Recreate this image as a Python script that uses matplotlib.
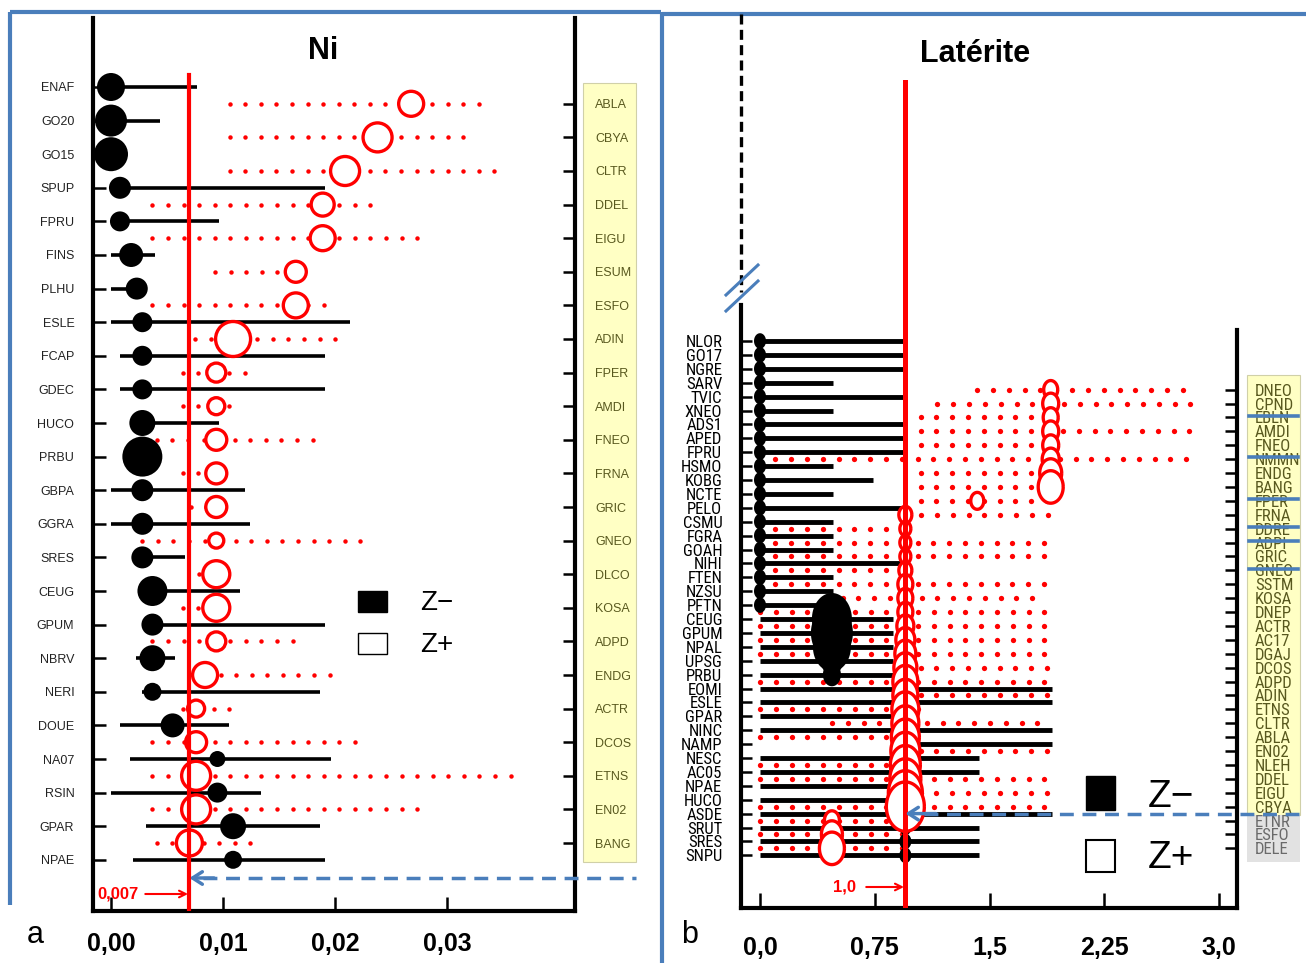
import numpy as np
import matplotlib
matplotlib.use('Agg')
import matplotlib.pyplot as plt
from matplotlib.patches import Rectangle
from matplotlib.path import Path
from matplotlib import font_manager as fm
from matplotlib.font_manager import FontProperties
import matplotlib.transforms as mtransforms

W, H = 1306, 963
_names = {f.name for f in fm.fontManager.ttflist}
SANS = 'Liberation Sans' if 'Liberation Sans' in _names else 'DejaVu Sans'
plt.rcParams['font.family'] = [SANS, 'DejaVu Sans']


def _pick_narrow():
    best = None
    for f in fm.fontManager.ttflist:
        fn = f.fname.replace('\\', '/').split('/')[-1]
        st = str(f.stretch)
        is_narrow = ('Narrow' in f.name or 'Condensed' in f.name or 'Narrow' in fn or 'Condensed' in fn
                     or st in ('condensed', 'semi-condensed', 'extra-condensed'))
        if not is_narrow:
            continue
        w = f.weight
        if not (w == 400 or w == 'normal' or w == 'regular'):
            continue
        if f.style != 'normal':
            continue
        if 'Bold' in fn or 'Italic' in fn or 'Light' in fn or 'Medium' in fn or 'Thin' in fn or 'Black' in fn:
            continue
        score = 10
        for i, key in enumerate(['Liberation', 'Roboto', 'Arimo', 'Noto', 'Open', 'DejaVu']):
            if key in f.name or key in fn:
                score = i
                break
        if 'Semi' in fn or 'Extra' in fn or 'Ultra' in fn:
            score += 0.5
        if best is None or score < best[0]:
            best = (score, f.fname, f.name)
    return best


_nb = _pick_narrow()
if _nb is not None and 'DejaVu' not in _nb[2] and 'DejaVu' not in _nb[1]:
    NARROW_FP = dict(fname=_nb[1], size=12)
elif _nb is not None:
    NARROW_FP = dict(fname=_nb[1], size=11)
else:
    NARROW_FP = dict(family=SANS, size=10)

# ---------------- Panel a : Ni ----------------
ni_minus_names = ['ENAF', 'GO20', 'GO15', 'SPUP', 'FPRU', 'FINS', 'PLHU', 'ESLE', 'FCAP', 'GDEC', 'HUCO', 'PRBU',
                  'GBPA', 'GGRA', 'SRES', 'CEUG', 'GPUM', 'NBRV', 'NERI', 'DOUE', 'NA07', 'RSIN', 'GPAR', 'NPAE']
ni_minus_mean = [0.0000, 0.0000, 0.0000, 0.0008, 0.0008, 0.0018, 0.0023, 0.0028, 0.0028, 0.0028, 0.0028, 0.0028,
                 0.0028, 0.0028, 0.0028, 0.0037, 0.0037, 0.0037, 0.0037, 0.0055, 0.0095, 0.0095, 0.0109, 0.0109]
ni_minus_low = [0.0000, 0.0000, 0.0000, 0.0000, 0.0008, 0.0000, 0.0000, 0.0000, 0.0008, 0.0008, 0.0028, 0.0028,
                0.0000, 0.0000, 0.0028, 0.0037, 0.0028, 0.0022, 0.0028, 0.0008, 0.0017, 0.0000, 0.0031, 0.0020]
ni_minus_high = [0.0077, 0.0044, 0.0000, 0.0191, 0.0096, 0.0039, 0.0023, 0.0213, 0.0191, 0.0191, 0.0096, 0.0028,
                 0.0120, 0.0124, 0.0066, 0.0115, 0.0191, 0.0057, 0.0187, 0.0105, 0.0196, 0.0134, 0.0187, 0.0191]
ni_minus_size = [28, 32, 34, 22, 20, 24, 22, 20, 20, 20, 26, 40, 22, 22, 22, 30, 22, 26, 18, 24, 16, 20, 26, 18]

ni_plus_names = ['ABLA', 'CBYA', 'CLTR', 'DDEL', 'EIGU', 'ESUM', 'ESFO', 'ADIN', 'FPER', 'AMDI', 'FNEO', 'FRNA',
                 'GRIC', 'GNEO', 'DLCO', 'KOSA', 'ADPD', 'ENDG', 'ACTR', 'DCOS', 'ETNS', 'EN02', 'BANG']
ni_plus_mean = [0.0268, 0.0238, 0.0209, 0.0189, 0.0189, 0.0165, 0.0165, 0.0109, 0.0094, 0.0094, 0.0094, 0.0094,
                0.0094, 0.0094, 0.0094, 0.0094, 0.0094, 0.0084, 0.0076, 0.0076, 0.0076, 0.0076, 0.0070]
ni_plus_low = [0.0106, 0.0106, 0.0106, 0.0037, 0.0037, 0.0093, 0.0037, 0.0075, 0.0064, 0.0064, 0.0041, 0.0064,
               0.0071, 0.0028, 0.0079, 0.0064, 0.0037, 0.0084, 0.0064, 0.0037, 0.0037, 0.0037, 0.0041]
ni_plus_high = [0.0329, 0.0317, 0.0346, 0.0231, 0.0273, 0.0165, 0.0189, 0.0200, 0.0121, 0.0108, 0.0180, 0.0094,
                0.0094, 0.0222, 0.0094, 0.0094, 0.0163, 0.0191, 0.0108, 0.0218, 0.0356, 0.0273, 0.0127]
ni_plus_size = [28, 32, 32, 26, 28, 24, 28, 38, 22, 20, 24, 24, 24, 18, 30, 30, 22, 28, 20, 24, 32, 32, 29]
ni_threshold = 0.007
ni_threshold_label = '0,007'
ni_xticks = [0.0, 0.01, 0.02, 0.03]
ni_xticklabels = ['0,00', '0,01', '0,02', '0,03']

# ---------------- Panel b : Latérite ----------------
lat_minus_names = ['NLOR', 'GO17', 'NGRE', 'SARV', 'TVIC', 'XNEO', 'ADS1', 'APED', 'FPRU', 'HSMO', 'KOBG', 'NCTE',
                   'PELO', 'CSMU', 'FGRA', 'GOAH', 'NIHI', 'FTEN', 'NZSU', 'PFTN', 'CEUG', 'GPUM', 'NPAL', 'UPSG',
                   'PRBU', 'EOMI', 'ESLE', 'GPAR', 'NINC', 'NAMP', 'NESC', 'AC05', 'NPAE', 'HUCO', 'ASDE', 'SRUT',
                   'SRES', 'SNPU']
lat_minus_mean = [0.0] * 20 + [0.47, 0.47, 0.47, 0.47, 0.47] + [0.95] * 13
lat_minus_low = [0.0] * 29 + [0.95] + [0.0] * 8
lat_minus_high = [0.935, 0.935, 0.935, 0.48, 0.935, 0.48, 0.935, 0.935, 0.935, 0.48, 0.74, 0.48,
                  0.935, 0.48, 0.48, 0.48, 0.935, 0.48, 0.48, 0.48, 0.87, 0.87, 0.87, 0.87,
                  0.87, 1.91, 1.91, 0.87, 1.91, 1.91, 1.43, 1.43, 0.87, 0.87, 1.91, 1.43,
                  1.43, 1.43]
lat_minus_size = [12] * 20 + [40, 42, 38, 22, 18] + [12] * 13

lat_plus_names = ['DNEO', 'CPND', 'EBLN', 'AMDI', 'FNEO', 'NMMN', 'ENDG', 'BANG', 'FPER', 'FRNA', 'DDRE', 'ADPI',
                  'GRIC', 'GNEO', 'SSTM', 'KOSA', 'DNEP', 'ACTR', 'AC17', 'DGAJ', 'DCOS', 'ADPD', 'ADIN', 'ETNS',
                  'CLTR', 'ABLA', 'EN02', 'NLEH', 'DDEL', 'EIGU', 'CBYA', 'ETNR', 'ESFO', 'DELE']
lat_plus_mean = [1.90] * 8 + [1.42] + [0.95] * 22 + [0.47, 0.47, 0.47]
lat_plus_low = [1.42, 1.16, 1.05, 1.05, 1.05, 0.10, 1.05, 1.05, 1.05, 0.95, 0.10, 0.10,
                0.10, 0.10, 0.10, 0.54, 0.0, 0.0, 0.0, 0.0, 1.05, 0.0, 1.05, 0.0,
                0.47, 0.0, 1.05, 0.0, 0.0, 1.05, 0.0, 0.0, 0.0, 0.0]
lat_plus_high = [2.76, 2.82, 1.81, 2.82, 1.80, 2.80, 1.90, 1.90, 1.88, 1.88, 0.95, 1.86,
                 1.86, 0.95, 1.86, 1.82, 1.86, 1.86, 1.86, 1.86, 1.88, 1.86, 1.86, 1.05,
                 1.82, 0.95, 1.88, 0.95, 1.86, 1.86, 1.86, 0.95, 0.95, 0.95]
lat_plus_size = [17, 19, 18, 19, 19, 20, 25, 28, 16, 16, 14, 14,
                 14, 16, 18, 18, 18, 20, 22, 24, 26, 28, 28, 30,
                 30, 31, 32, 33, 34, 37, 41, 18, 24, 28]
lat_plus_group = ['yellow'] * 31 + ['grey'] * 3
lat_struck = ['EBLN', 'NMMN', 'FPER', 'DDRE', 'ADPI', 'GNEO']
lat_threshold = 0.95
lat_threshold_label = '1,0'
lat_xticks = [0.0, 0.75, 1.5, 2.25, 3.0]
lat_xticklabels = ['0,0', '0,75', '1,5', '2,25', '3,0']

BLUE = '#4a7ebb'
OLIVE = '#58581e'

fig = plt.figure(figsize=(W / 100, H / 100), dpi=100)
fig.patch.set_facecolor('white')

ov = fig.add_axes([0, 0, 1, 1])
ov.set_xlim(0, W)
ov.set_ylim(H, 0)
ov.axis('off')
ov.set_zorder(-1)


def fax(l, t, r, b):
    a = fig.add_axes([l / W, 1 - b / H, (r - l) / W, (b - t) / H])
    a.set_facecolor('none')
    return a


def dotted(ax, lows, highs, ys, step, ms):
    for lo, hi, y in zip(lows, highs, ys):
        xs = np.arange(lo, hi + 0.4 * step, step)
        ax.plot(xs, np.full(len(xs), y), 'o', ms=ms, color='red', mec='none', zorder=2, clip_on=False)


PT = 0.72  # points per pixel

# ======== Panel a ========
A0, AS = 111, 11200.0
AY0, AYS = 87, 16.8
axA = fax(93, 18, 575, 911)
axA.set_xlim((93 - A0) / AS, (575 - A0) / AS)
axA.set_ylim((911 - AY0) / AYS, (18 - AY0) / AYS)
ya_m = 2 * np.arange(len(ni_minus_names))
ya_p = 2 * np.arange(len(ni_plus_names)) + 1

axA.hlines(ya_m, ni_minus_low, ni_minus_high, color='black', lw=2.6, zorder=2)
axA.scatter(ni_minus_mean, ya_m, s=(np.array(ni_minus_size) * PT) ** 2, color='black', linewidths=0, zorder=3)
dotted(axA, ni_plus_low, ni_plus_high, ya_p, 0.00139, 3.2)
axA.scatter(ni_plus_mean, ya_p, s=((np.array(ni_plus_size) - 3) * PT) ** 2, facecolor='white',
            edgecolor='red', linewidths=2.4, zorder=4)
axA.axvline(ni_threshold, ymin=0, ymax=(911 - 75) / (911 - 18), color='red', lw=3, zorder=6)

axA.set_yticks(ya_m, ni_minus_names)
axA.set_yticks(ya_p, ni_plus_names, minor=True)
axA.tick_params(axis='y', which='major', left=True, right=False, labelleft=True, labelright=False,
                direction='in', length=9, width=1.8, pad=13.5, labelsize=9, labelcolor='#222222')
axA.tick_params(axis='y', which='minor', left=False, right=True, labelleft=False, labelright=True,
                direction='in', length=9, width=1.8, pad=14.5, labelsize=9, labelcolor=OLIVE)
axA.set_xticks(ni_xticks, ni_xticklabels)
axA.tick_params(axis='x', which='major', direction='in', length=10, width=1.8, pad=15, labelsize=18)
for lab in axA.get_xticklabels():
    lab.set_fontweight('bold')
axA.spines['top'].set_visible(False)
for s in ['left', 'right', 'bottom']:
    axA.spines[s].set_linewidth(3)

yA_txt = (894 - AY0) / AYS
axA.annotate(ni_threshold_label, xy=(ni_threshold, yA_txt), xytext=(0.0006, yA_txt), color='red',
             fontsize=12, fontweight='bold', ha='center', va='center', annotation_clip=False,
             arrowprops=dict(arrowstyle='->', color='red', lw=1.5, shrinkA=3, shrinkB=1))
yA_arr = (878 - AY0) / AYS
axA.plot([ni_threshold + 0.0012, (636 - A0) / AS], [yA_arr, yA_arr], color=BLUE, lw=2.5,
         ls=(0, (4, 2.5)), clip_on=False, zorder=7)
axA.annotate('', xy=(ni_threshold, yA_arr), xytext=(ni_threshold + 0.0022, yA_arr), annotation_clip=False,
             arrowprops=dict(arrowstyle='->,head_length=0.7,head_width=0.45', color=BLUE, lw=2.5,
                             shrinkA=0, shrinkB=0), zorder=7)

# ======== Panel b ========
B0, BS = 760, 153.0
BY0, BYS = 341, 6.95
axB = fax(741, 18, 1237, 908)
axB.set_xlim((741 - B0) / BS, (1237 - B0) / BS)
axB.set_ylim((908 - BY0) / BYS, (18 - BY0) / BYS)
yb_m = 2 * np.arange(len(lat_minus_names))
yb_p = 2 * np.arange(len(lat_plus_names)) + 7

t = np.linspace(0, 2 * np.pi, 73)
ELL = Path(np.column_stack([np.cos(t), 1.3 * np.sin(t)]))
ELL_RATIO = 1.3

axB.hlines(yb_m, lat_minus_low, lat_minus_high, color='black', lw=3.5, zorder=2)
dotted(axB, lat_plus_low, lat_plus_high, yb_p, 0.1033, 3.8)
axB.scatter(lat_minus_mean, yb_m, s=(np.array(lat_minus_size) * ELL_RATIO * PT) ** 2, marker=ELL,
            color='black', linewidths=0, zorder=3)
axB.scatter(lat_plus_mean, yb_p, s=((np.array(lat_plus_size) - 3) * ELL_RATIO * PT) ** 2, marker=ELL,
            facecolor='white', edgecolor='red', linewidths=2.4, zorder=4)
axB.axvline(lat_threshold, ymin=0, ymax=(908 - 82) / (908 - 18), color='red', lw=3.6, zorder=6)

axB.set_yticks(yb_m, lat_minus_names)
axB.set_yticks(yb_p, lat_plus_names, minor=True)
axB.tick_params(axis='y', which='major', left=True, right=False, labelleft=True, labelright=False,
                direction='in', length=8, width=1.8, pad=13.5, labelcolor='black')
axB.tick_params(axis='y', which='minor', left=False, right=True, labelleft=False, labelright=True,
                direction='in', length=9, width=1.8, pad=13, labelcolor=OLIVE)
for lab in axB.get_yticklabels() + axB.get_yticklabels(minor=True):
    lab.set_fontproperties(FontProperties(**NARROW_FP))
for lab, grp in zip(axB.get_yticklabels(minor=True), lat_plus_group):
    lab.set_color(OLIVE if grp == 'yellow' else '#6a6a6a')
axB.set_xticks(lat_xticks, lat_xticklabels)
axB.tick_params(axis='x', which='major', direction='in', length=11, width=1.8, pad=20, labelsize=18)
for lab in axB.get_xticklabels():
    lab.set_fontweight('bold')
axB.spines['top'].set_visible(False)
for s in ['left', 'right', 'bottom']:
    axB.spines[s].set_linewidth(3)
axB.spines['left'].set_bounds((305 - BY0) / BYS, (908 - BY0) / BYS)
axB.spines['right'].set_bounds((330 - BY0) / BYS, (908 - BY0) / BYS)

yB_txt = (887 - BY0) / BYS
axB.annotate(lat_threshold_label, xy=(lat_threshold, yB_txt), xytext=((845 - B0) / BS, yB_txt), color='red',
             fontsize=12, fontweight='bold', ha='center', va='center', annotation_clip=False,
             arrowprops=dict(arrowstyle='->', color='red', lw=1.5, shrinkA=5, shrinkB=1))
yB_arr = yb_m[lat_minus_names.index('ASDE')]
axB.plot([lat_threshold + 0.12, (1306 - B0) / BS], [yB_arr, yB_arr], color=BLUE, lw=2.5,
         ls=(0, (4, 2.5)), clip_on=False, zorder=7)
axB.annotate('', xy=(lat_threshold, yB_arr), xytext=(lat_threshold + 0.2, yB_arr), annotation_clip=False,
             arrowprops=dict(arrowstyle='->,head_length=0.7,head_width=0.45', color=BLUE, lw=2.5,
                             shrinkA=0, shrinkB=0), zorder=7)
blend = mtransforms.blended_transform_factory(ov.transData, axB.transData)
for nm in lat_struck:
    yy = yb_p[lat_plus_names.index(nm)] - 0.25
    axB.plot([1249, 1298], [yy, yy], color=BLUE, lw=2.6, transform=blend, clip_on=False, zorder=8)

# ======== decorations (figure pixels) ========
for (x1, y1, x2, y2) in [(10, 12, 10, 905), (10, 12, 661, 12), (662, 12, 662, 963), (662, 14, 1306, 14)]:
    ov.plot([x1, x2], [y1, y2], color=BLUE, lw=3, solid_capstyle='butt')
ov.add_patch(Rectangle((583, 83), 53, 779, facecolor='#ffffc4', edgecolor='#d0d0a8', lw=0.8))
ov.add_patch(Rectangle((1247, 375), 53, 440, facecolor='#ffffc4', edgecolor='#d0d0a8', lw=0.8))
ov.add_patch(Rectangle((1247, 815), 53, 47, facecolor='#e2e2e2', edgecolor='none'))
ov.plot([741, 741], [14, 292], color='black', lw=2.4, ls=(0, (3, 1.6)))
ov.plot([726, 758], [295, 265], color=BLUE, lw=2.2)
ov.plot([726, 758], [311, 281], color=BLUE, lw=2.2)
ov.text(323, 51, 'Ni', fontsize=22, fontweight='bold', ha='center', va='center')
ov.text(975, 54, 'Latérite', fontsize=22, fontweight='bold', ha='center', va='center')
ov.text(35, 935, 'a', fontsize=22, ha='center', va='center')
ov.text(690, 935, 'b', fontsize=22, ha='center', va='center')
ov.add_patch(Rectangle((358, 591), 29, 21, facecolor='black', edgecolor='black', lw=1))
ov.add_patch(Rectangle((358, 633), 29, 21, facecolor='white', edgecolor='black', lw=1))
ov.text(420, 603, 'Z\u2212', fontsize=20, ha='left', va='center')
ov.text(420, 645, 'Z+', fontsize=20, ha='left', va='center')
ov.add_patch(Rectangle((1086, 776), 29, 34, facecolor='black', edgecolor='black', lw=1))
ov.add_patch(Rectangle((1086, 840), 29, 32, facecolor='white', edgecolor='black', lw=1.5))
ov.text(1148, 797, 'Z\u2212', fontsize=28, ha='left', va='center')
ov.text(1148, 858, 'Z+', fontsize=28, ha='left', va='center')

fig.savefig('out.png', dpi=100, facecolor='white')
